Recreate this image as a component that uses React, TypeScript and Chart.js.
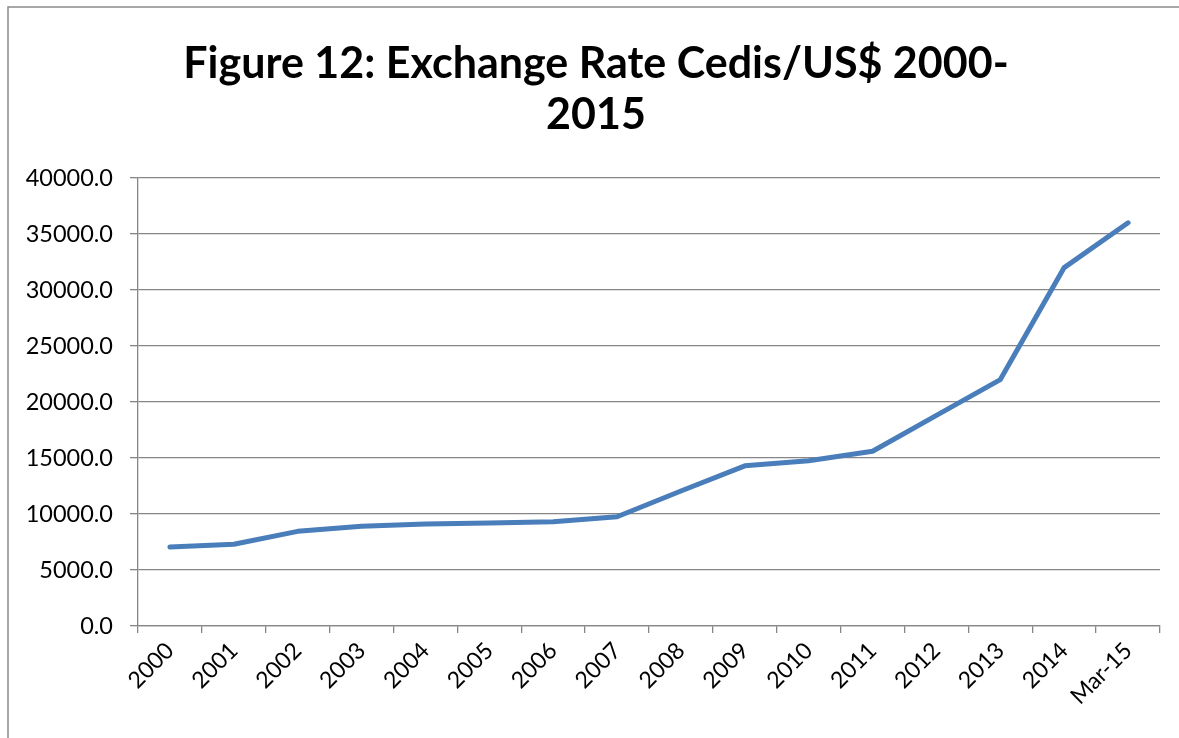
import React, { useEffect, useRef } from "react";
import { Chart, registerables } from "chart.js";

Chart.register(...registerables);

const categories = [
  "2000", "2001", "2002", "2003", "2004", "2005", "2006", "2007",
  "2008", "2009", "2010", "2011", "2012", "2013", "2014", "Mar-15",
];
const exchangeRates = [
  7050, 7300, 8450, 8900, 9100, 9200, 9300, 9750,
  12050, 14300, 14750, 15600, 18800, 22000, 32000, 36000,
];
const yMin = 0;
const yMax = 40000;
const yStep = 5000;
const titleLines = ["Figure 12: Exchange Rate Cedis/US$ 2000-", "2015"];

const GRID = "#868686";
const FONT = "Lato, 'Open Sans', sans-serif";

const framePlugin = {
  id: "outerFrame",
  afterDraw(chart: any) {
    const ctx = chart.ctx;
    ctx.save();
    ctx.strokeStyle = "#8a8a8a";
    ctx.lineWidth = 1.5;
    ctx.beginPath();
    ctx.moveTo(8, chart.height);
    ctx.lineTo(8, 7);
    ctx.lineTo(chart.width, 7);
    ctx.stroke();
    ctx.restore();
  },
};

const titlePlugin = {
  id: "centeredTitle",
  afterDraw(chart: any) {
    const ctx = chart.ctx;
    ctx.save();
    ctx.fillStyle = "#000";
    ctx.font = `bold 43px ${FONT}`;
    ctx.textAlign = "center";
    ctx.textBaseline = "middle";
    titleLines.forEach((line, i) => {
      ctx.fillText(line, 596, 64.5 + i * 50.5);
    });
    ctx.restore();
  },
};

export default function App() {
  const ref = useRef<HTMLCanvasElement | null>(null);
  useEffect(() => {
    document.body.style.margin = "0";
    if (!ref.current) return;
    const chart = new Chart(ref.current, {
      type: "line",
      data: {
        labels: categories,
        datasets: [
          {
            data: exchangeRates,
            borderColor: "#4a7ebb",
            backgroundColor: "#4a7ebb",
            borderWidth: 5,
            pointRadius: 0,
            tension: 0,
            borderCapStyle: "round",
            borderJoinStyle: "round",
          },
        ],
      },
      options: {
        responsive: false,
        animation: false,
        layout: { padding: { left: 8, right: 19, top: 178, bottom: 0 } },
        plugins: {
          legend: { display: false },
          tooltip: { enabled: false },
          title: { display: false },
        },
        scales: {
          x: {
            offset: true,
            grid: {
              offset: true,
              drawOnChartArea: false,
              drawTicks: true,
              tickLength: 7,
              color: GRID,
              lineWidth: 1.3,
            },
            border: { color: GRID, width: 1.3 },
            ticks: {
              autoSkip: false,
              minRotation: 45,
              maxRotation: 45,
              padding: 4,
              color: "#000",
              font: { family: FONT, size: 23 },
            },
            afterFit(scale: any) {
              scale.height = 112;
            },
          },
          y: {
            min: yMin,
            max: yMax,
            grid: {
              color: GRID,
              lineWidth: 1.3,
              tickLength: 8,
            },
            border: { color: GRID, width: 1.3 },
            ticks: {
              stepSize: yStep,
              padding: 17,
              color: "#000",
              font: { family: FONT, size: 23.5 },
              callback: (v: any) => Number(v).toFixed(1),
            },
            afterFit(scale: any) {
              scale.width = 130;
            },
          },
        },
      },
      plugins: [framePlugin, titlePlugin],
    });
    return () => chart.destroy();
  }, []);
  return (
    <div style={{ width: 1179, height: 738, background: "#fff" }}>
      <canvas ref={ref} width={1179} height={738} style={{ display: "block" }} />
    </div>
  );
}
